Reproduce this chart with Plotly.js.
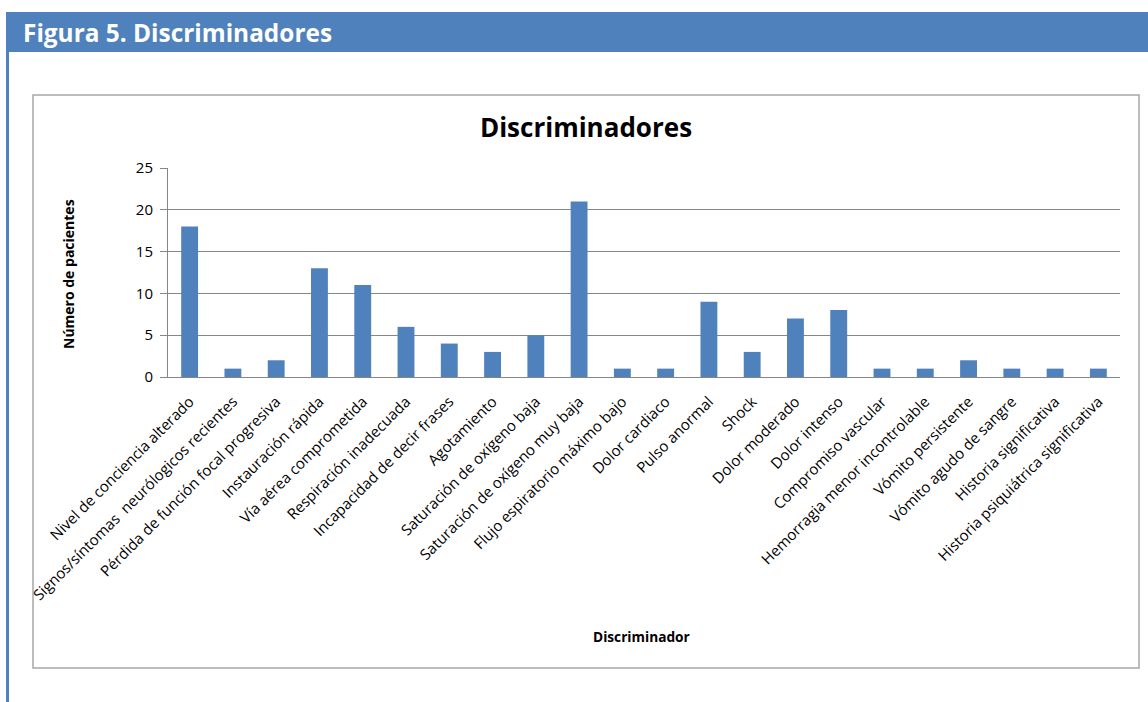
<!DOCTYPE html>
<html><head><meta charset="utf-8">
<script src="https://cdn.plot.ly/plotly-3.0.1.min.js"></script>
<style>html,body{margin:0;padding:0;background:#fff;}#chart{width:1148px;height:702px;}</style>
</head><body><div id="chart"></div>
<script>
const categories = [
  "Nivel de conciencia alterado",
  "Signos/síntomas  neurólogicos recientes",
  "Pérdida de función focal progresiva",
  "Instauración rápida",
  "Vía aérea comprometida",
  "Respiración inadecuada",
  "Incapacidad de decir frases",
  "Agotamiento",
  "Saturación de oxígeno baja",
  "Saturación de oxígeno muy baja",
  "Flujo espiratorio máximo bajo",
  "Dolor cardiaco",
  "Pulso anormal",
  "Shock",
  "Dolor moderado",
  "Dolor intenso",
  "Compromiso vascular",
  "Hemorragia menor incontrolable",
  "Vómito persistente",
  "Vómito agudo de sangre",
  "Historia significativa",
  "Historia psiquiátrica significativa"
];
const pacientes = [18, 1, 2, 13, 11, 6, 4, 3, 5, 21, 1, 1, 9, 3, 7, 8, 1, 1, 2, 1, 1, 1];
const yTicks = [0, 5, 10, 15, 20, 25];

const W = 1148, H = 702;
const L = 168, R = 1120, T = 168, B = 377;
const px = x => (x - L) / (R - L);
const py = y => (B - y) / (B - T);

const blue = '#4F81BD';
const font = 'Open Sans, Liberation Sans, Arial, sans-serif';

const trace = {
  type: 'bar', x: categories, y: pacientes,
  marker: {color: blue, line: {width: 0}},
  hoverinfo: 'x+y'
};

const layout = {
  width: W, height: H,
  margin: {l: L, r: W - R, t: T, b: H - B, pad: 0},
  paper_bgcolor: '#fff', plot_bgcolor: '#fff',
  showlegend: false,
  bargap: 0.61,
  font: {family: font, color: '#000'},
  title: {text: '<b>Discriminadores</b>', font: {family: font, size: 26, color: '#000'},
          xref: 'container', yref: 'container', x: 586 / W, y: 1 - 128 / H, xanchor: 'center', yanchor: 'middle'},
  xaxis: {
    type: 'category', tickangle: -45, tickfont: {family: font, size: 15, color: '#000'},
    showline: true, linecolor: '#868686', linewidth: 1, showgrid: false,
    ticks: '', ticklabelstandoff: 9, automargin: false, fixedrange: true
  },
  yaxis: {
    range: [0, 25], tickvals: yTicks, ticktext: yTicks.map(String),
    tickfont: {family: font, size: 15, color: '#000'},
    showline: true, linecolor: '#868686', linewidth: 1,
    showgrid: true, gridcolor: '#868686', gridwidth: 1,
    ticks: 'outside', ticklen: 7, tickcolor: '#868686', zeroline: false,
    ticklabelstandoff: 4,
    automargin: false, fixedrange: true
  },
  shapes: [
    {type: 'rect', xref: 'paper', yref: 'paper', x0: px(6), x1: px(1148), y0: py(12), y1: py(52),
     fillcolor: blue, line: {width: 0}, layer: 'below'},
    {type: 'rect', xref: 'paper', yref: 'paper', x0: px(6), x1: px(9), y0: py(52), y1: py(702),
     fillcolor: blue, line: {width: 0}, layer: 'below'},
    {type: 'rect', xref: 'paper', yref: 'paper', x0: px(33), x1: px(1139), y0: py(95), y1: py(668),
     fillcolor: 'rgba(0,0,0,0)', line: {color: '#A6A6A6', width: 1.5}, layer: 'below'}
  ],
  annotations: [
    {text: '<b>Figura 5. Discriminadores</b>', xref: 'paper', yref: 'paper', x: px(21), y: py(32),
     xanchor: 'left', yanchor: 'middle', showarrow: false, font: {family: font, size: 24.4, color: '#fff'}},
    {text: '<b>Número de pacientes</b>', xref: 'paper', yref: 'paper', x: px(68), y: py(274),
     xanchor: 'center', yanchor: 'middle', textangle: -90, showarrow: false, font: {family: font, size: 14, color: '#000'}},
    {text: '<b>Discriminador</b>', xref: 'paper', yref: 'paper', x: px(641), y: py(636),
     xanchor: 'center', yanchor: 'middle', showarrow: false, font: {family: font, size: 13.7, color: '#000'}}
  ]
};

Plotly.newPlot('chart', [trace], layout, {displayModeBar: false});
</script>
</body></html>
